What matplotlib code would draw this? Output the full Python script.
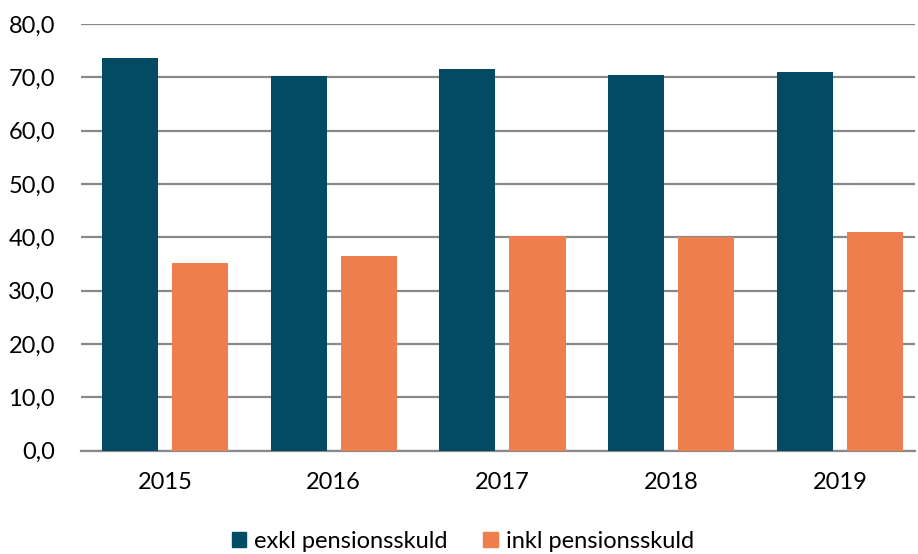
import matplotlib.pyplot as plt
import numpy as np
from matplotlib.patches import Patch

plt.rcParams['font.family'] = ['Lato', 'DejaVu Sans']

years = ['2015', '2016', '2017', '2018', '2019']
exkl = [73.6, 70.2, 71.6, 70.5, 71.0]
inkl = [35.1, 36.5, 40.3, 40.0, 41.0]

c_exkl = '#024B63'
c_inkl = '#EF7E4F'
grid_c = '#898989'

fig = plt.figure(figsize=(9.18, 5.54), dpi=100)
ax = fig.add_axes([80.7 / 918, 1 - 450.7 / 554, (915 - 80.7) / 918, (450.7 - 24) / 554])

x = np.arange(len(years))
w = 0.332
gap = 0.083
ax.bar(x - (w + gap) / 2, exkl, w, color=c_exkl, zorder=3)
ax.bar(x + (w + gap) / 2, inkl, w, color=c_inkl, zorder=3)

ax.set_ylim(0, 80)
ax.set_xlim(-0.5, 4.445)
ax.set_yticks(np.arange(0, 81, 10))
ax.set_yticklabels([f'{v:.1f}'.replace('.', ',') for v in np.arange(0, 81, 10)])
ax.set_xticks(x)
ax.set_xticklabels(years)
ax.yaxis.grid(True, color=grid_c, linewidth=1.6, zorder=0)
ax.set_axisbelow(True)
for s in ['top', 'right', 'left']:
    ax.spines[s].set_visible(False)
ax.spines['bottom'].set_color(grid_c)
ax.spines['bottom'].set_linewidth(1.6)
ax.tick_params(axis='both', length=0, labelsize=17, colors='black')
ax.tick_params(axis='y', pad=18.5)
ax.tick_params(axis='x', pad=15)

handles = [Patch(color=c_exkl, label='exkl pensionsskuld'),
           Patch(color=c_inkl, label='inkl pensionsskuld')]
fig.legend(handles=handles, loc='center', bbox_to_anchor=(463 / 918, 1 - 541 / 554),
           ncol=2, frameon=False, fontsize=17, handlelength=0.6, handleheight=0.6,
           handletextpad=0.35, columnspacing=1.5)

fig.savefig('out.png', dpi=100)
